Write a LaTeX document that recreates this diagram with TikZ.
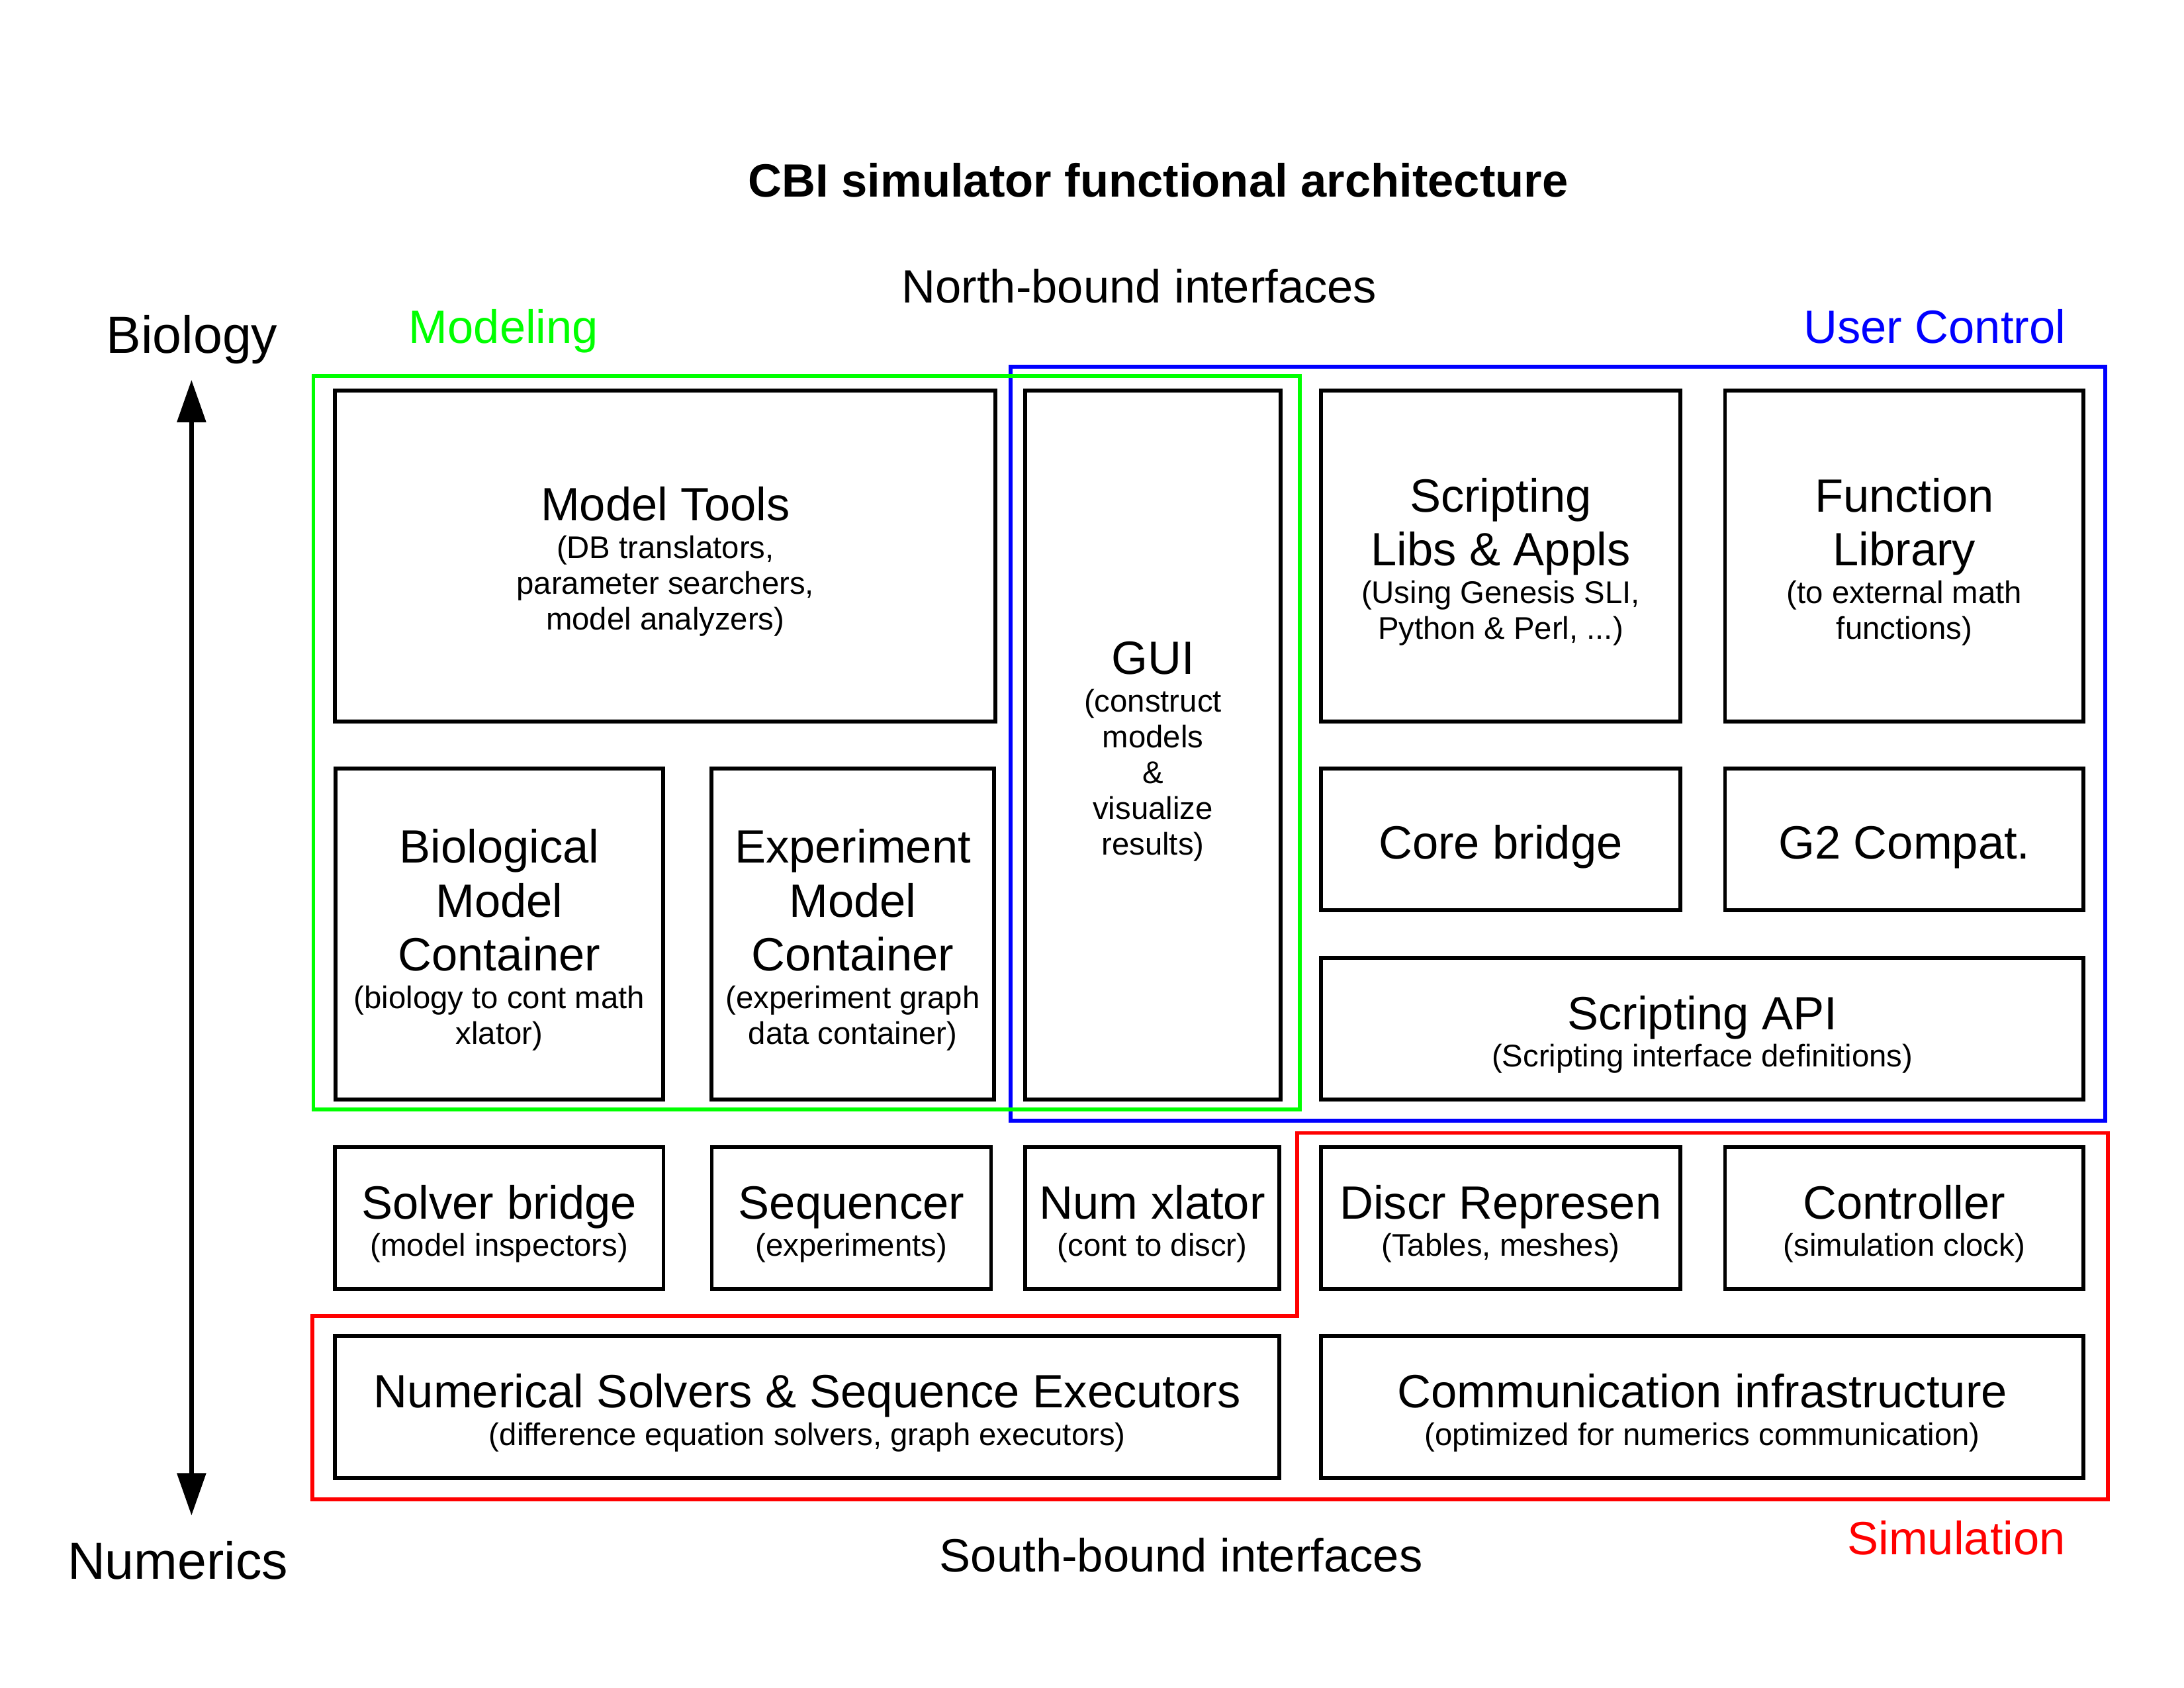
\documentclass[tikz,border=0pt]{standalone}
\usepackage{fontspec}
\setmainfont{Liberation Sans}
\usepackage{xcolor}
\usetikzlibrary{shapes,arrows,arrows.meta,positioning,calc}

\definecolor{modgreen}{RGB}{0,255,0}
\definecolor{ucblue}{RGB}{0,0,255}
\definecolor{simred}{RGB}{255,0,0}

\newcommand{\stack}[1]{\begin{tabular}{@{}c@{}}\rule{0pt}{18pt}#1\end{tabular}}
\newcommand{\detail}[1]{{\fontsize{11.4}{13}\selectfont #1}}

\begin{document}
\begin{tikzpicture}[x=0.017819cm, y=-0.017819cm,
    blk/.style={draw, line width=1.4pt, inner sep=0pt, font=\fontsize{17}{13}\selectfont},
    sz/.style 2 args={minimum width=#1*0.017819cm, minimum height=#2*0.017819cm},
    grp/.style={line width=1.4pt},
    lbl/.style={inner sep=0pt, font=\fontsize{17}{20}\selectfont}]
            \useasboundingbox (0,0) rectangle (1568,1211.6);

            % Title and interface labels
            \node[lbl, anchor=base, font=\bfseries\fontsize{17}{20}\selectfont] (title) at (831.5,141.3) {CBI simulator functional architecture};
            \node[lbl, anchor=base] (north) at (818,217.3) {North-bound interfaces};
            \node[lbl, anchor=base] (south) at (848,1128) {South-bound interfaces};

            % Group names
            \node[lbl, anchor=base, text=modgreen] (modeling) at (361.6,246.6) {Modeling};
            \node[lbl, anchor=base, text=ucblue] (userctl) at (1389,246.6) {User Control};
            \node[lbl, anchor=base, text=simred] (simul) at (1404.6,1115.8) {Simulation};

            % Modeling row
            \node[blk, sz={474.2}{237.5}] (mtools) at (477.7,399.15) {\stack{Model Tools\\[0.7pt]\detail{(DB translators,}\\\detail{parameter searchers,}\\\detail{model analyzers)}}};
            \node[blk, sz={235.4}{237.6}] (biocont) at (358.5,670.6) {\stack{Biological\\[3.4pt]Model\\[3.4pt]Container\\[0.7pt]\detail{(biology to cont math}\\\detail{xlator)}}};
            \node[blk, sz={202.9}{237.6}] (expcont) at (612.25,670.6) {\stack{Experiment\\[3.4pt]Model\\[3.4pt]Container\\[0.7pt]\detail{(experiment graph}\\\detail{data container)}}};
            \node[blk, sz={183.4}{509}] (gui) at (827.7,534.9) {\stack{GUI\\[0.7pt]\detail{(construct}\\\detail{models}\\\detail{\&}\\\detail{visualize}\\\detail{results)}}};

            % User control area
            \node[blk, sz={257.7}{237.5}] (slibs) at (1077.35,399.15) {\stack{Scripting\\[3.4pt]Libs \& Appls\\[0.7pt]\detail{(Using Genesis SLI,}\\\detail{Python \& Perl, ...)}}};
            \node[blk, sz={257.4}{237.5}] (flib) at (1367.2,399.15) {\stack{Function\\[3.4pt]Library\\[0.7pt]\detail{(to external math}\\\detail{functions)}}};
            \node[blk, sz={257.7}{101.4}] (corebr) at (1077.35,602.5) {\stack{Core bridge}};
            \node[blk, sz={257.4}{101.4}] (gcompat) at (1367.2,602.5) {\stack{G2 Compat.}};
            \node[blk, sz={547.4}{101.8}] (sapi) at (1222.2,738.5) {\stack{Scripting API\\[0.7pt]\detail{(Scripting interface definitions)}}};

            % Bridge row
            \node[blk, sz={235.7}{101.8}] (solverbr) at (358.45,874.4) {\stack{Solver bridge\\[0.7pt]\detail{(model inspectors)}}};
            \node[blk, sz={200.5}{101.8}] (seq) at (611.25,874.4) {\stack{Sequencer\\[0.7pt]\detail{(experiments)}}};
            \node[blk, sz={182.6}{101.8}] (numx) at (827.3,874.4) {\stack{Num xlator\\[0.7pt]\detail{(cont to discr)}}};
            \node[blk, sz={257.7}{101.8}] (discr) at (1077.35,874.4) {\stack{Discr Represen\\[0.7pt]\detail{(Tables, meshes)}}};
            \node[blk, sz={257.4}{101.8}] (ctrl) at (1367.2,874.4) {\stack{Controller\\[0.7pt]\detail{(simulation clock)}}};

            % Bottom row
            \node[blk, sz={678}{102.2}] (numsolv) at (579.6,1009.9) {\stack{Numerical Solvers \& Sequence Executors\\[0.7pt]\detail{(difference equation solvers, graph executors)}}};
            \node[blk, sz={547.4}{102.2}] (comm) at (1222.2,1009.9) {\stack{Communication infrastructure\\[0.7pt]\detail{(optimized for numerics communication)}}};

            % Group outlines
            \draw[grp, ucblue] (725.4,263.1) rectangle (1511.5,804.5);
            \draw[grp, modgreen] (225,269.9) rectangle (933,796.3);
            \draw[grp, simred] (931.1,813.2) -- (1513.2,813.2) -- (1513.2,1076.2) -- (224.3,1076.2) -- (224.3,944.6) -- (931.1,944.6) -- cycle;

            % Side axis
            \node[anchor=base west, inner sep=0pt, font=\fontsize{19}{22}\selectfont] (biology) at (76,253.7) {Biology};
            \node[anchor=base west, inner sep=0pt, font=\fontsize{19}{22}\selectfont] (numerics) at (48.1,1133.6) {Numerics};
            \coordinate (axtop) at (137.5,272.7);
            \coordinate (axbot) at (137.5,1087.8);
            \draw[{Triangle[width=10.3pt,length=15.4pt]}-{Triangle[width=10.3pt,length=15.4pt]}, line width=1.6pt] (axtop) -- (axbot);
        \end{tikzpicture}
\end{document}
